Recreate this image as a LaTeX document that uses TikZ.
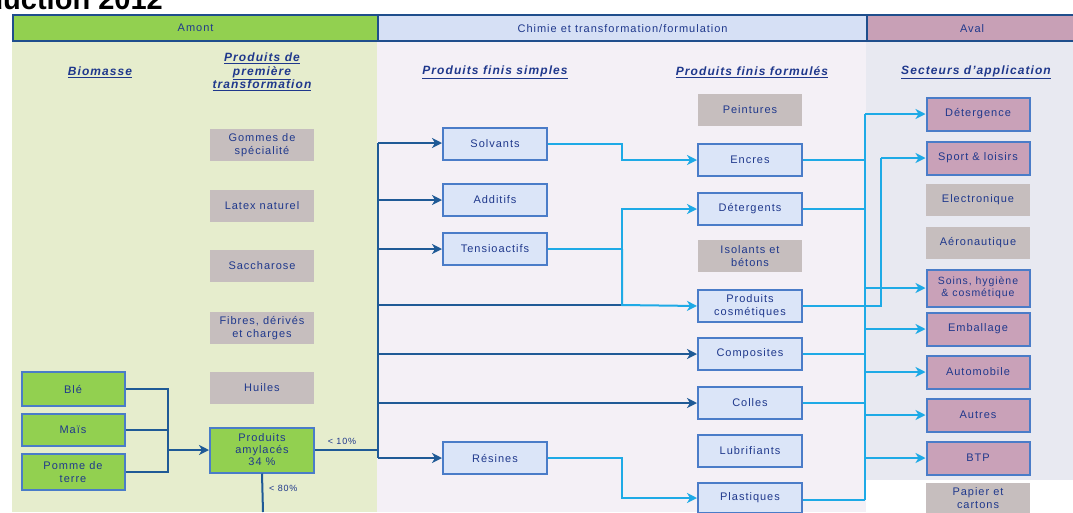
\documentclass[tikz,border=0pt]{standalone}
\usepackage{fontspec}
\setmainfont{Liberation Sans}[LetterSpace=9]
\newfontfamily\titlefont{Liberation Sans}
\usetikzlibrary{arrows.meta}
\definecolor{hdrborder}{RGB}{31,78,140}
\definecolor{greenf}{RGB}{146,208,80}
\definecolor{amontbg}{RGB}{230,237,205}
\definecolor{chimhdr}{RGB}{214,224,245}
\definecolor{chimbg}{RGB}{244,240,246}
\definecolor{avalhdr}{RGB}{200,160,182}
\definecolor{avalbg}{RGB}{232,233,241}
\definecolor{darkc}{RGB}{31,90,150}
\definecolor{lightc}{RGB}{30,170,230}
\definecolor{boxf}{RGB}{219,229,248}
\definecolor{boxb}{RGB}{74,124,200}
\definecolor{greyf}{RGB}{198,190,190}
\definecolor{pinkf}{RGB}{201,161,184}
\definecolor{txtc}{RGB}{31,56,140}
\tikzset{
  base/.style={rectangle, align=center, text=txtc, font=\fontsize{11}{12.5}\selectfont, inner sep=1pt},
  hdr/.style={base, draw=hdrborder, line width=2.2pt, minimum height=26, font=\fontsize{11}{12}\selectfont},
  bbox/.style={base, fill=boxf, draw=boxb, line width=2pt, minimum width=104, minimum height=32},
  gbox/.style={base, fill=greyf, minimum width=104, minimum height=32},
  pbox/.style={base, fill=pinkf, draw=boxb, line width=2pt, minimum width=103, minimum height=33},
  grbox/.style={base, fill=greenf, draw=boxb, line width=2pt, minimum width=103, minimum height=33},
  coltitle/.style={base, font=\bfseries\itshape\fontsize{12}{13.5}\selectfont},
  pct/.style={base, font=\fontsize{9}{10}\selectfont},
  dline/.style={draw=darkc, line width=2pt},
  lline/.style={draw=lightc, line width=2pt},
  darr/.style={dline, -{Stealth[length=10pt,width=10pt,inset=3pt]}},
  larr/.style={lline, -{Stealth[length=10pt,width=10pt,inset=3pt]}},
}
\begin{document}
\begin{tikzpicture}[x=1pt,y=-1pt]
\useasboundingbox (0,0) rectangle (1073,512);
% backgrounds
\fill[amontbg] (12,40) rectangle (377,512);
\fill[chimbg] (377,40) rectangle (866,512);
\fill[avalbg] (866,40) rectangle (1073,480);
% title
\node[anchor=base east, inner sep=0, font=\titlefont\bfseries\fontsize{29}{29}\selectfont] (title) at (163,9) {Production 2012};
% headers
\node[hdr, fill=greenf, minimum width=365, anchor=north west] (hamont) at (12,14) {Amont};
\node[hdr, fill=chimhdr, minimum width=489, anchor=north west] (hchim) at (377,14) {Chimie et transformation/formulation};
\node[hdr, fill=avalhdr, minimum width=210, anchor=north west] (haval) at (866,14) {Aval};
% column titles
\node[coltitle] (c1) at (100,72) {\underline{Biomasse}};
\node[coltitle] (c2) at (262,72) {\underline{Produits de}\\\underline{première}\\\underline{transformation}};
\node[coltitle] (c3) at (495,72) {\underline{Produits finis simples}};
\node[coltitle] (c4) at (752,72) {\underline{Produits finis formulés}};
\node[coltitle] (c5) at (976,72) {\underline{Secteurs d'application}};
% column 1
\node[grbox, minimum height=34] (ble) at (73,389) {Blé};
\node[grbox, minimum height=32] (mais) at (73,430) {Maïs};
\node[grbox, minimum height=36] (pomme) at (73,472) {Pomme de\\terre};
% column 2
\node[gbox] (gomme) at (262,145) {Gommes de\\spécialité};
\node[gbox] (latex) at (262,206) {Latex naturel};
\node[gbox] (sacch) at (262,266) {Saccharose};
\node[gbox] (fibres) at (262,328) {Fibres, dérivés\\et charges};
\node[gbox] (huiles) at (262,388) {Huiles};
\node[grbox, minimum width=104, minimum height=45, font=\fontsize{11}{12}\selectfont] (amyl) at (262,450) {Produits\\amylacés\\34 \%};
% column 3
\node[bbox] (solv) at (495,144) {Solvants};
\node[bbox] (addi) at (495,200) {Additifs};
\node[bbox] (tens) at (495,249) {Tensioactifs};
\node[bbox] (resi) at (495,458) {Résines};
% column 4
\node[gbox] (peint) at (750,110) {Peintures};
\node[bbox] (encres) at (750,160) {Encres};
\node[bbox] (deterg) at (750,209) {Détergents};
\node[gbox] (isol) at (750,256) {Isolants et\\bétons};
\node[bbox] (cosm) at (750,306) {Produits\\cosmétiques};
\node[bbox] (compo) at (750,354) {Composites};
\node[bbox] (colles) at (750,403) {Colles};
\node[bbox] (lubri) at (750,451) {Lubrifiants};
\node[bbox, minimum height=30] (plast) at (750,498) {Plastiques};
% column 5
\node[pbox] (detce) at (978,114) {Détergence};
\node[pbox] (sport) at (978,158) {Sport \& loisirs};
\node[gbox] (elec) at (978,200) {Electronique};
\node[gbox] (aero) at (978,243) {Aéronautique};
\node[pbox, minimum height=37, font=\fontsize{10.5}{12}\selectfont] (soins) at (978,288) {Soins, hygiène\\\& cosmétique};
\node[pbox] (emb) at (978,329) {Emballage};
\node[pbox] (auto) at (978,372) {Automobile};
\node[pbox] (autres) at (978,415) {Autres};
\node[pbox] (btp) at (978,458) {BTP};
\node[gbox, minimum height=30] (papier) at (978,498) {Papier et\\cartons};
% coordinates
\coordinate (m1) at (168,389);
\coordinate (m2) at (168,472);
\coordinate (m3) at (168,450);
\coordinate (ttop) at (378,143);
\coordinate (tbot) at (378,458);
\coordinate (tamy) at (378,450);
\coordinate (tcos) at (378,305);
\coordinate (tcom) at (378,354);
\coordinate (tcol) at (378,403);
\coordinate (jc) at (622,305);
\coordinate (bot) at (263,512);
\coordinate (a1) at (865,114);
\coordinate (a2) at (865,500);
\coordinate (b1) at (881,158);
\coordinate (b2) at (881,306);
% biomass to amylaces
\draw[dline] (ble.east) -- (m1) -- (m2) -- (pomme.east);
\draw[dline] (mais.east) -- (mais.east -| m1);
\draw[darr] (m3) -- (amyl.west);
% amylaces outputs
\draw[dline] (amyl.east) -- (tamy);
\draw[dline] (amyl.south) -- (bot);
\node[pct, anchor=south] (p10) at (342,446) {< 10\%};
\node[pct, anchor=west] (p80) at (268,488) {< 80\%};
% trunk
\draw[dline] (ttop) -- (tbot);
\draw[darr] (ttop) -- (ttop -| solv.west);
\draw[darr] (ttop |- addi.west) -- (addi.west);
\draw[darr] (ttop |- tens.west) -- (tens.west);
\draw[darr] (tbot) -- (resi.west);
\draw[dline] (tcos) -- (jc);
\draw[darr] (tcom) -- (compo.west);
\draw[darr] (tcol) -- (colles.west);
% simple -> formulated
\draw[larr] (solv.east) -- (622,144) |- (encres.west);
\draw[larr] (tens.east) -- (622,249) |- (deterg.west);
\draw[larr] (622,249) -- (jc) -- (cosm.west);
\draw[larr] (resi.east) -- (622,458) |- (plast.west);
% formulated -> sectors
\draw[lline] (a1) -- (a2);
\draw[lline] (encres.east) -- (encres.east -| a1);
\draw[lline] (deterg.east) -- (deterg.east -| a1);
\draw[lline] (compo.east) -- (compo.east -| a1);
\draw[lline] (colles.east) -- (colles.east -| a1);
\draw[lline] (plast.east |- a2) -- (a2);
\draw[larr] (a1) -- (detce.west);
\draw[larr] (a1 |- soins.west) -- (soins.west);
\draw[larr] (a1 |- emb.west) -- (emb.west);
\draw[larr] (a1 |- auto.west) -- (auto.west);
\draw[larr] (a1 |- autres.west) -- (autres.west);
\draw[larr] (a1 |- btp.west) -- (btp.west);
\draw[lline] (cosm.east) -- (b2) -- (b1);
\draw[larr] (b1) -- (sport.west);
\end{tikzpicture}
\end{document}
